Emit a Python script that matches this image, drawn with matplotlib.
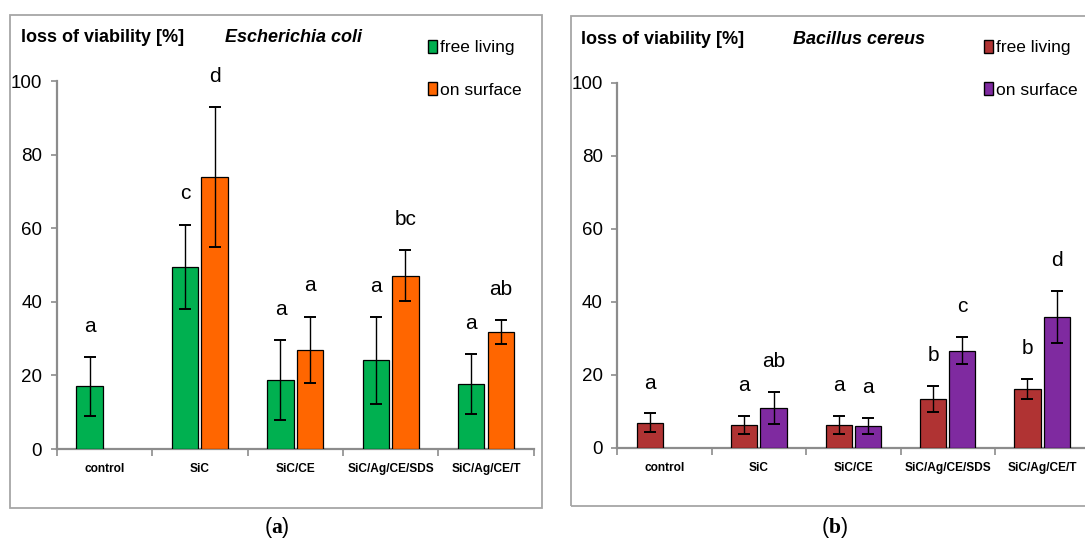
import matplotlib
matplotlib.use("Agg")
import matplotlib.pyplot as plt
from matplotlib import font_manager
from matplotlib.patches import Rectangle, Patch
import numpy as np

# ---- data -------------------------------------------------------------
categories = ["control", "SiC", "SiC/CE", "SiC/Ag/CE/SDS", "SiC/Ag/CE/T"]
series_names = ["free living", "on surface"]

# Escherichia coli (panel a)
ecoli_free = [17.0, 49.5, 18.8, 24.1, 17.7]
ecoli_free_err = [7.9, 11.5, 10.9, 11.8, 8.2]
ecoli_surf = [None, 74.0, 27.0, 47.1, 31.8]
ecoli_surf_err = [None, 19.0, 9.0, 7.0, 3.3]
ecoli_free_letters = ["a", "c", "a", "a", "a"]
ecoli_surf_letters = [None, "d", "a", "bc", "ab"]

# Bacillus cereus (panel b)
bc_free = [6.9, 6.2, 6.3, 13.4, 16.1]
bc_free_err = [2.5, 2.5, 2.5, 3.5, 2.7]
bc_surf = [None, 10.9, 6.0, 26.6, 35.8]
bc_surf_err = [None, 4.4, 2.2, 3.7, 7.1]
bc_free_letters = ["a", "a", "a", "b", "b"]
bc_surf_letters = [None, "ab", "a", "c", "d"]

y_ticks = [0, 20, 40, 60, 80, 100]

# ---- style ------------------------------------------------------------
W, H = 1085, 540
available = {f.name for f in font_manager.fontManager.ttflist}
NARROW = "Liberation Sans Narrow" if "Liberation Sans Narrow" in available else "Liberation Sans"
k = 1.15 if NARROW == "Liberation Sans Narrow" else 1.0
plt.rcParams["font.family"] = [NARROW, "DejaVu Sans"]
plt.rcParams["mathtext.fontset"] = "custom"
plt.rcParams["mathtext.rm"] = "Liberation Serif"
plt.rcParams["mathtext.bf"] = "Liberation Serif:bold"

GRAY = "#8c8c8c"
FRAME = "#a6a6a6"

fig = plt.figure(figsize=(W / 100, H / 100), dpi=100)


def fx(x):
    return x / W


def fy(y):
    return 1 - y / H


def panel(rect_px, frame_px, free, free_err, surf, surf_err, free_lbl, surf_lbl,
          colors, ylabel_xy, species, species_xy, legend_xy, caption, caption_xy):
    x0, y100, x1, y0 = rect_px
    ax = fig.add_axes([fx(x0), fy(y0), fx(x1) - fx(x0), fy(y100) - fy(y0)])

    # outer frame of the panel
    fl, ft, fr, fb = frame_px
    fig.patches.append(Rectangle((fx(fl), fy(fb)), fx(fr) - fx(fl), fy(ft) - fy(fb),
                                 transform=fig.transFigure, fill=False,
                                 edgecolor=FRAME, linewidth=1.3, zorder=0))

    n = len(categories)
    centers = np.arange(n) + 0.5
    off, bw = 0.155, 0.278
    ekw = dict(ecolor="black", elinewidth=1.0, capsize=4, capthick=1.4)

    fx_pos = centers - off
    ax.bar(fx_pos, free, bw, color=colors[0], edgecolor="black", linewidth=0.9,
           yerr=free_err, error_kw=ekw, zorder=3)
    for xp, v, e, t in zip(fx_pos, free, free_err, free_lbl):
        ax.text(xp, v + e + 8.3, t, ha="center", va="center", fontsize=15 * k)

    idx = [i for i, v in enumerate(surf) if v is not None]
    sx = centers[idx] + off
    sv = [surf[i] for i in idx]
    se = [surf_err[i] for i in idx]
    ax.bar(sx, sv, bw, color=colors[1], edgecolor="black", linewidth=0.9,
           yerr=se, error_kw=ekw, zorder=3)
    for xp, v, e, i in zip(sx, sv, se, idx):
        ax.text(xp, v + e + 8.3, surf_lbl[i], ha="center", va="center", fontsize=15 * k)

    ax.set_xlim(0, n)
    ax.set_ylim(0, 100)
    for s in ("top", "right"):
        ax.spines[s].set_visible(False)
    for s in ("left", "bottom"):
        ax.spines[s].set_color(GRAY)
        ax.spines[s].set_linewidth(1.6)
    ax.set_yticks(y_ticks)
    ax.tick_params(axis="y", direction="out", length=4, width=1.2, color=GRAY,
                   labelsize=13.5 * k, pad=6.5)
    ax.set_xticks(np.arange(n + 1))
    ax.set_xticklabels([])
    ax.set_xticks(centers, minor=True)
    ax.set_xticklabels(categories, minor=True, fontsize=8.6 * k, fontweight="bold")
    ax.tick_params(axis="x", which="major", direction="out", length=5, width=1.2, color=GRAY)
    ax.tick_params(axis="x", which="minor", length=0, pad=10)
    ax.patch.set_visible(False)

    fig.text(fx(ylabel_xy[0]), fy(ylabel_xy[1]), "loss of viability [%]",
             fontsize=13 * k, fontweight="bold", ha="left", va="center")
    fig.text(fx(species_xy[0]), fy(species_xy[1]), species,
             fontsize=13 * k, fontweight="bold", style="italic", ha="left", va="center")

    handles = [Patch(facecolor=c, edgecolor="black", linewidth=1.0) for c in colors]
    fig.legend(handles, series_names, loc="upper left",
               bbox_to_anchor=(fx(legend_xy[0]), fy(legend_xy[1])),
               frameon=False, fontsize=12.5 * k, handlelength=0.5, handleheight=0.75,
               handletextpad=0.2, labelspacing=1.55, borderpad=0, borderaxespad=0)

    fig.text(fx(caption_xy[0]), fy(caption_xy[1]), caption, fontsize=15.5,
             ha="center", va="center")
    return ax


panel((56.8, 81, 533.7, 449), (10, 14.5, 542, 508),
      ecoli_free, ecoli_free_err, ecoli_surf, ecoli_surf_err,
      ecoli_free_letters, ecoli_surf_letters,
      ("#00b050", "#ff6600"), (21, 37), "Escherichia coli", (225, 37),
      (428, 40), r"($\mathbf{a}$)", (277, 528))

panel((617.3, 82.7, 617.3 + 5 * 94.4, 447.7), (571, 16, 1100, 506),
      bc_free, bc_free_err, bc_surf, bc_surf_err,
      bc_free_letters, bc_surf_letters,
      ("#b03333", "#7f2aa0"), (581, 40), "Bacillus cereus", (793, 40),
      (984, 40), r"($\mathbf{b}$)", (834, 528))

fig.savefig("out.png", dpi=100)
